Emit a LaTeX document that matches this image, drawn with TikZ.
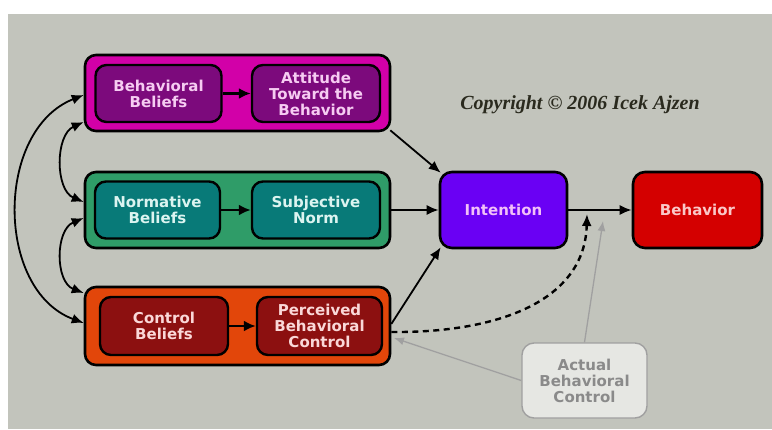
\documentclass[tikz,border=0pt]{standalone}
\usepackage{fontspec}
\setmainfont{Liberation Serif}
\newfontfamily\boxfont{DejaVu Sans}
\usetikzlibrary{arrows.meta}

\definecolor{panel}{HTML}{C2C4BC}
\definecolor{magOuter}{HTML}{D200A8}
\definecolor{magInner}{HTML}{7C0A7C}
\definecolor{magText}{HTML}{F6CCF2}
\definecolor{grnOuter}{HTML}{2F9C68}
\definecolor{grnInner}{HTML}{087A78}
\definecolor{grnText}{HTML}{DCF4F0}
\definecolor{orgOuter}{HTML}{E2460A}
\definecolor{orgInner}{HTML}{8C1010}
\definecolor{orgText}{HTML}{FAD8D8}
\definecolor{intFill}{HTML}{6A00F4}
\definecolor{intText}{HTML}{F2C0F8}
\definecolor{behFill}{HTML}{D40000}
\definecolor{behText}{HTML}{FAC8C8}
\definecolor{abcFill}{HTML}{E6E7E3}
\definecolor{abcLine}{HTML}{A0A0A0}
\definecolor{abcText}{HTML}{8A8A8A}
\definecolor{copyText}{HTML}{2A2A1E}

\begin{document}
\begin{tikzpicture}[x=1pt,y=-1pt,
  boxtext/.style={font=\boxfont\bfseries\fontsize{15}{16}\selectfont},
  outerbox/.style={draw=black, line width=2.6pt, rounded corners=11pt,
    minimum width=305pt, minimum height=76pt, inner sep=0pt},
  innerbox/.style={draw=black, line width=2.4pt, rounded corners=11pt,
    minimum width=126pt, minimum height=57pt, inner sep=0pt, align=center,
    boxtext},
  mainbox/.style={draw=black, line width=2.6pt, rounded corners=12pt,
    minimum width=127pt, minimum height=76pt, inner sep=0pt, align=center,
    boxtext},
  arr/.style={line width=1.8pt, -{Latex[length=12pt,width=10pt]}},
  innerarr/.style={line width=2.6pt, -{Latex[length=12pt,width=11pt]}},
  dbl/.style={line width=1.8pt,
    {Latex[length=12pt,width=10pt]}-{Latex[length=12pt,width=10pt]}},
  dasharr/.style={line width=2.4pt, dash pattern=on 6pt off 4.5pt,
    -{Latex[length=12pt,width=10pt]}},
  grayarr/.style={draw=abcLine, line width=1.3pt,
    -{Latex[length=10pt,width=8pt]}, abcLine}
]
\useasboundingbox (0,0) rectangle (772,429);
\fill[white] (0,0) rectangle (772,429);
\fill[panel] (8,14) rectangle (772,429);

% outer group boxes
\node[outerbox, fill=magOuter] (mag) at (237.5,93) {};
\node[outerbox, fill=grnOuter] (grn) at (237.5,210) {};
\node[outerbox, fill=orgOuter, minimum height=78pt] (org) at (237.5,326) {};

% belief and construct boxes
\node[innerbox, fill=magInner, text=magText] (bb) at (158.5,93.5) {Behavioral\\Beliefs};
\node[innerbox, fill=magInner, text=magText, minimum width=128pt] (att) at (316,93.5) {Attitude\\Toward the\\Behavior};
\node[innerbox, fill=grnInner, text=grnText, minimum width=125pt] (nb) at (157.5,210) {Normative\\Beliefs};
\node[innerbox, fill=grnInner, text=grnText, minimum width=128pt] (sn) at (316,210) {Subjective\\Norm};
\node[innerbox, fill=orgInner, text=orgText, minimum width=128pt, minimum height=58pt] (cb) at (164,326) {Control\\Beliefs};
\node[innerbox, fill=orgInner, text=orgText, minimum width=125pt, minimum height=58pt] (pbc) at (319.5,326) {Perceived\\Behavioral\\Control};

% intention and behavior
\node[mainbox, fill=intFill, text=intText] (int) at (503.5,210) {Intention};
\node[mainbox, fill=behFill, text=behText, minimum width=129pt] (beh) at (697.5,210) {Behavior};

% actual behavioral control
\node[draw=abcLine, line width=1.4pt, rounded corners=12pt, fill=abcFill,
  text=abcText, minimum width=125pt, minimum height=75pt, inner sep=0pt,
  align=center, boxtext]
  (abc) at (584.5,380.5) {Actual\\Behavioral\\Control};

% copyright line
\node[font=\fontsize{20}{22}\selectfont\bfseries\itshape, text=copyText]
  (copy) at (580,105) {Copyright \textcopyright{} 2006 Icek Ajzen};

% arrows inside the groups
\draw[innerarr] (bb) -- (att);
\draw[innerarr] (nb) -- (sn);
\draw[innerarr] (cb) -- (pbc);

% arrows into intention and behavior
\draw[arr] ([xshift=-1pt,yshift=2pt]mag.south east) -- ([xshift=2pt,yshift=-2pt]int.north west);
\draw[arr] (grn.east) -- (int.west);
\draw[arr] ([yshift=2pt]org.east) -- ([xshift=2pt,yshift=2pt]int.south west);
\draw[arr] (int.east) -- (beh.west);

% perceived control moderating intention -> behavior
\coordinate (mod) at (587,214);
\draw[dasharr] ([yshift=-6pt]org.east) .. controls (500,333) and (585,300) .. (mod);

% actual behavioral control links
\coordinate (actTip) at (603,221);
\coordinate (pbcTip) at (394,338);
\draw[grayarr] (abc.north) -- (actTip);
\draw[grayarr] (abc.west) -- (pbcTip);

% correlations between belief groups
\draw[dbl] ([yshift=-2pt]mag.west) .. controls (-5,130) and (-5,290) .. ([yshift=3pt]org.west);
\draw[dbl] ([yshift=-29pt]mag.west) .. controls (55,135) and (55,190) .. ([yshift=8pt]grn.west);
\draw[dbl] ([yshift=-8pt]grn.west) .. controls (55,230) and (55,282) .. ([yshift=33pt]org.west);
\end{tikzpicture}
\end{document}
